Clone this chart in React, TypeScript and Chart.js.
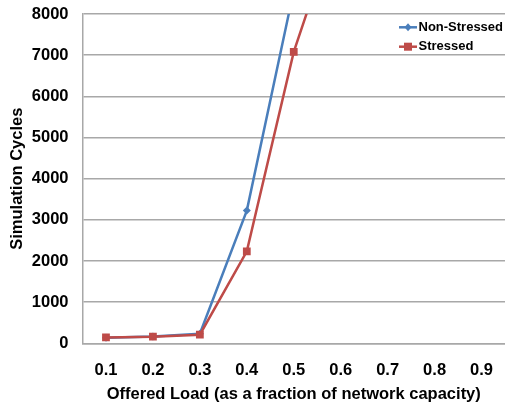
import React, { useEffect, useRef } from "react";
import { Chart, registerables } from "chart.js";

Chart.register(...registerables);

const categories = ["0.1", "0.2", "0.3", "0.4", "0.5", "0.6", "0.7", "0.8", "0.9"];
const nonStressed = [140, 165, 235, 3225, 8570, null, null, null, null];
const stressed = [145, 163, 212, 2237, 7080, 10480, null, null, null];
const yTicks = [0, 1000, 2000, 3000, 4000, 5000, 6000, 7000, 8000];

const BLUE = "#4A7EBB";
const RED = "#BE4B48";
const GRID = "#A8A8A8";
const FONT = "'Liberation Sans', Arial, Helvetica, sans-serif";

const legendPlugin = {
  id: "insideLegend",
  afterDraw(chart: any) {
    const ctx = chart.ctx;
    const items = chart.data.datasets.map((d: any) => ({
      label: d.label,
      color: d.borderColor,
      style: d.pointStyle,
    }));
    const x0 = 399;
    const x1 = 417;
    const ys = [27.3, 46.7];
    ctx.save();
    items.forEach((it: any, i: number) => {
      const y = ys[i];
      ctx.strokeStyle = it.color;
      ctx.lineWidth = 2.5;
      ctx.beginPath();
      ctx.moveTo(x0, y);
      ctx.lineTo(x1, y);
      ctx.stroke();
      ctx.fillStyle = it.color;
      const cx = (x0 + x1) / 2;
      if (it.style === "rect") {
        ctx.fillRect(cx - 4, y - 4, 8, 8);
      } else {
        ctx.beginPath();
        ctx.moveTo(cx, y - 4);
        ctx.lineTo(cx + 3.5, y);
        ctx.lineTo(cx, y + 4);
        ctx.lineTo(cx - 3.5, y);
        ctx.closePath();
        ctx.fill();
      }
      ctx.fillStyle = "#000";
      ctx.font = `bold 13px ${FONT}`;
      ctx.textBaseline = "middle";
      ctx.textAlign = "left";
      ctx.fillText(it.label, x1 + 1.5, y);
    });
    ctx.restore();
  },
};

export default function App() {
  const ref = useRef<HTMLCanvasElement | null>(null);

  useEffect(() => {
    document.body.style.margin = "0";
    if (!ref.current) return;
    const chart = new Chart(ref.current, {
      type: "line",
      data: {
        labels: categories,
        datasets: [
          {
            label: "Non-Stressed",
            data: nonStressed,
            borderColor: BLUE,
            backgroundColor: BLUE,
            borderWidth: 2.5,
            pointStyle: "rectRot",
            pointRadius: 4,
            pointBorderWidth: 0,
            pointBackgroundColor: BLUE,
            tension: 0,
            order: 1,
            spanGaps: false,
          },
          {
            label: "Stressed",
            data: stressed,
            borderColor: RED,
            backgroundColor: RED,
            borderWidth: 2.5,
            pointStyle: "rect",
            pointRadius: 5.5,
            pointBorderWidth: 0,
            pointBackgroundColor: RED,
            tension: 0,
            order: 0,
            spanGaps: false,
          },
        ],
      },
      options: {
        animation: false,
        responsive: false,
        devicePixelRatio: 1,
        layout: {
          autoPadding: false,
          padding: { top: 14, left: 4, right: 0, bottom: 3 },
        },
        plugins: {
          legend: { display: false },
          tooltip: { enabled: false },
        },
        scales: {
          x: {
            type: "category",
            offset: true,
            grid: { display: false, drawTicks: true, tickLength: 14 },
            border: { display: true, color: GRID, width: 1.5 },
            ticks: {
              color: "#000",
              padding: 3,
              font: { family: FONT, size: 16.5, weight: "bold" },
            },
            title: {
              display: true,
              text: "Offered Load (as a fraction of network capacity)",
              color: "#000",
              padding: { top: 1, bottom: 0 },
              font: { family: FONT, size: 16.5, weight: "bold" },
            },
          },
          y: {
            min: 0,
            max: 8000,
            afterBuildTicks: (axis: any) => {
              axis.ticks = yTicks.map((v) => ({ value: v }));
            },
            grid: {
              color: GRID,
              lineWidth: 1.5,
              drawTicks: true,
              tickLength: 11,
              tickColor: "rgba(0,0,0,0)",
            },
            border: { display: true, color: GRID, width: 1.5 },
            ticks: {
              color: "#000",
              padding: 3,
              callback: (v: any) => String(v),
              font: { family: FONT, size: 16.5, weight: "bold" },
            },
            title: {
              display: true,
              text: "Simulation Cycles",
              color: "#000",
              padding: { top: 4, bottom: 1 },
              font: { family: FONT, size: 16.5, weight: "bold" },
            },
          },
        },
      },
      plugins: [legendPlugin],
    });
    return () => chart.destroy();
  }, []);

  return (
    <div style={{ width: 505, height: 407, background: "#fff" }}>
      <canvas ref={ref} width={505} height={407} style={{ display: "block" }} />
    </div>
  );
}
